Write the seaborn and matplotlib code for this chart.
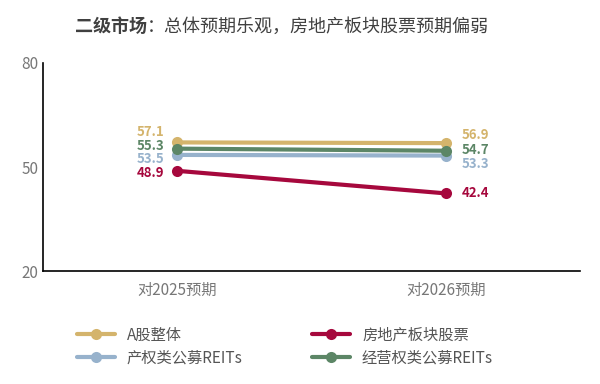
import matplotlib
matplotlib.use("Agg")
import matplotlib.pyplot as plt
import seaborn as sns
import pandas as pd

periods = ["对2025预期", "对2026预期"]
series_names = ["A股整体", "房地产板块股票", "产权类公募REITs", "经营权类公募REITs"]
a_share = [57.1, 56.9]
property_stocks = [48.9, 42.4]
equity_reits = [53.5, 53.3]
operating_reits = [55.3, 54.7]
colors = ["#D4B46C", "#A6083D", "#97B2CC", "#5C8666"]

sns.set_theme(style="white")
plt.rcParams['font.family'] = ['Noto Sans CJK SC', 'DejaVu Sans']

rows = []
for name, vals in zip(series_names, [a_share, property_stocks, equity_reits, operating_reits]):
    for p, v in zip(periods, vals):
        rows.append({"period": p, "series": name, "value": v})
df = pd.DataFrame(rows)

fig = plt.figure(figsize=(6, 3.84), dpi=100)
ax = fig.add_axes([0.072, 0.294, 0.895, 0.542])

sns.lineplot(data=df, x="period", y="value", hue="series", hue_order=series_names,
             palette=colors, marker="o", markersize=8, markeredgewidth=0,
             linewidth=3, ax=ax, sort=False)

ax.set_xlim(-0.5, 1.5)
ax.set_ylim(20, 80)
ax.set_yticks([20, 50, 80])
ax.set_xlabel("")
ax.set_ylabel("")
for s in ["top", "right"]:
    ax.spines[s].set_visible(False)
for s in ["left", "bottom"]:
    ax.spines[s].set_color("black")
    ax.spines[s].set_linewidth(1.2)
ax.tick_params(axis="both", direction="in", length=4, width=1, color="black",
               labelsize=11, labelcolor="#777777")
ax.tick_params(axis="x", pad=8)

# value labels, nudged so the close ones don't collide
left_offsets = {"A股整体": 3.0, "经营权类公募REITs": 0.8, "产权类公募REITs": -1.3, "房地产板块股票": -0.6}
right_offsets = {"A股整体": 2.3, "经营权类公募REITs": 0.2, "产权类公募REITs": -2.5, "房地产板块股票": 0.0}
for name, vals, c in zip(series_names, [a_share, property_stocks, equity_reits, operating_reits], colors):
    ax.text(-0.05, vals[0] + left_offsets[name], f"{vals[0]:.1f}", color=c, ha="right",
            va="center", fontsize=9.5, fontweight="bold")
    ax.text(1.06, vals[1] + right_offsets[name], f"{vals[1]:.1f}", color=c, ha="left",
            va="center", fontsize=9.5, fontweight="bold")

handles, labels = ax.get_legend_handles_labels()
order = [0, 2, 1, 3]
ax.legend([handles[i] for i in order], [labels[i] for i in order],
          loc="upper center", bbox_to_anchor=(0.45, -0.2), ncol=2,
          frameon=False, fontsize=11, handlelength=2.5, columnspacing=4.5,
          labelspacing=0.4, labelcolor="#555555")

t1 = fig.text(0.125, 0.93, "二级市场", fontsize=13, fontweight="bold", color="#404040", va="center")
fig.canvas.draw()
bb = t1.get_window_extent(renderer=fig.canvas.get_renderer())
x_end = bb.x1 / fig.bbox.width
fig.text(x_end, 0.93, "：总体预期乐观，房地产板块股票预期偏弱", fontsize=13, color="#404040", va="center")

fig.savefig("out.png", dpi=100)
